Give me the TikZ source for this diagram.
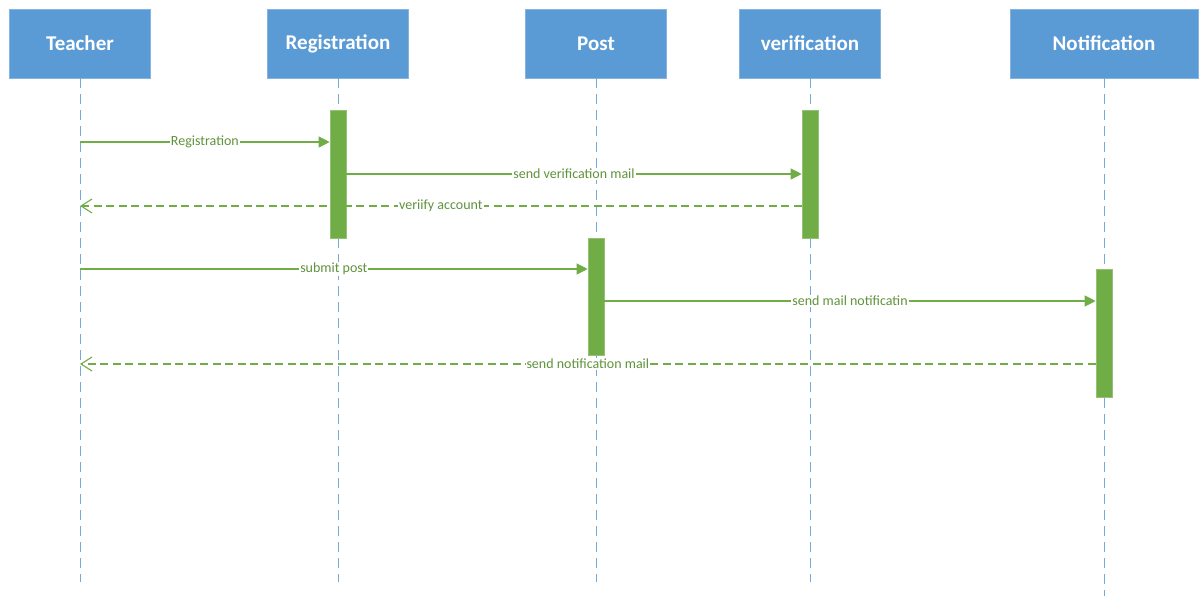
\documentclass[tikz,border=0pt]{standalone}
\usepackage{fontspec}
\setmainfont{Carlito}
\usetikzlibrary{arrows.meta,positioning}
\definecolor{lifeblue}{HTML}{5B9BD5}
\definecolor{actgreen}{HTML}{70AD47}

\begin{document}
\begin{tikzpicture}%
  [x=1pt, y=-1pt,
   node distance=258pt,
   on grid,
   head/.style={fill=lifeblue, draw=lifeblue!75!white, minimum width=141pt, minimum height=69pt,
                inner sep=0pt, text=white, font=\fontsize{21}{25}\selectfont\bfseries},
   lifeline/.style={draw=lifeblue!85!white, line width=1pt, dash pattern=on 10pt off 6pt},
   bar/.style={fill=actgreen, draw=actgreen!75!white, line width=0.6pt, minimum width=16pt,
               inner sep=0pt, anchor=north},
   call/.style={draw=actgreen, line width=1.1pt, -{Triangle[length=11pt,width=11pt]}},
   reply/.style={draw=actgreen, line width=1.1pt, dash pattern=on 8pt off 4.5pt,
                 -{Straight Barb[length=11pt,width=14pt]}},
   msg/.style={fill=white, inner sep=1pt, text=actgreen!85!black, font=\fontsize{14}{16}\selectfont}
  ]
\useasboundingbox (0,0) rectangle (1202,596);

% participants
\node[head] (teacher) at (80,43.5)            {Teacher};
\node[head] (reg)     [right=of teacher]      {Registration};
\node[head] (post)    [right=of reg]          {Post};
\node[head] (verif)   [right=214pt of post]   {verification};
\node[head, minimum width=188pt] (notif) [right=294pt of verif] {Notification};

% lifelines
\foreach \n in {teacher,reg,post,verif}
  \draw[lifeline] (\n.south) -- (\n.south |- 0,582);
\draw[lifeline] (notif.south) -- (notif.south |- 0,596);

% activations
\node[bar, minimum height=128pt] (regbar)   at (338,110)  {};
\node[bar, minimum height=128pt] (verifbar) at (810,110)  {};
\node[bar, minimum height=117pt] (postbar)  at (596,238)  {};
\node[bar, minimum height=128pt] (notifbar) at (1104,269) {};

\path
%   FROM                       KIND         LABEL                                TO
   (teacher |- 0,142)     edge[call]  node[msg] {Registration}           (regbar.west |- 0,142)
   (regbar.east |- 0,174) edge[call]  node[msg] {send verification mail} (verifbar.west |- 0,174)
   (verifbar.west |- 0,206) edge[reply] node[msg] {veriify account}      (teacher |- 0,206)
   (teacher |- 0,269)     edge[call]  node[msg] {submit post}            (postbar.west |- 0,269)
   (postbar.east |- 0,301) edge[call] node[msg] {send mail notificatin}  (notifbar.west |- 0,301)
   (notifbar.west |- 0,364) edge[reply] node[msg] {send notification mail} (teacher |- 0,364)
   ;
\end{tikzpicture}
\end{document}
